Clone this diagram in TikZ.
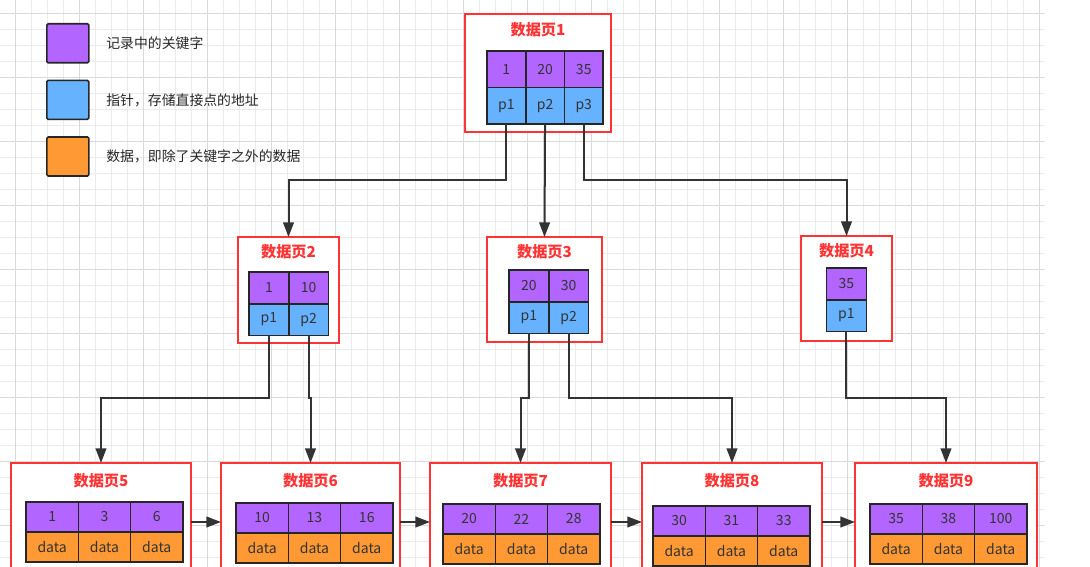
\documentclass[tikz,border=0pt]{standalone}
\usepackage{fontspec}
\setmainfont{Noto Sans CJK SC}
\usetikzlibrary{positioning, arrows.meta, calc}
\newlength\pxu
\setlength\pxu{0.75pt}
\definecolor{keyc}{HTML}{B266FF}
\definecolor{ptrc}{HTML}{66B2FF}
\definecolor{datc}{HTML}{FF9933}
\definecolor{pagered}{HTML}{FF3333}
\definecolor{linec}{HTML}{333333}

\begin{document}
\begin{tikzpicture}[x=\pxu, y=-\pxu,
  page/.style={draw=pagered, line width=1.1pt, fill=white, anchor=north west,
               inner sep=0pt, outer sep=0pt},
  title/.style={text=pagered, font=\bfseries\fontsize{11.4}{13}\selectfont},
  cell/.style={draw=black!85, line width=1.2pt, outer sep=0pt, inner sep=0pt,
               text=black!80, font=\fontsize{10.5}{12}\selectfont},
  key/.style={cell, fill=keyc},
  ptr/.style={cell, fill=ptrc},
  dat/.style={cell, fill=datc},
  root/.style={minimum width=38.7\pxu, minimum height=36.5\pxu},
  upper/.style={minimum width=39.8\pxu, minimum height=31.7\pxu},
  leaf/.style={minimum width=52.3\pxu, minimum height=30\pxu},
  arr/.style={-{Triangle[length=11pt, width=8pt]}, line width=1.5pt, draw=linec},
  legbox/.style={draw=black!85, line width=1.2pt, rounded corners=1pt,
                 minimum width=42\pxu, minimum height=39\pxu, inner sep=0pt},
  legtext/.style={anchor=west, text=black!85, font=\fontsize{10.4}{12}\selectfont},
  gridminor/.style={draw=black!8, line width=0.5pt},
  gridmajor/.style={draw=black!15, line width=0.6pt},
]
\useasboundingbox (0,0) rectangle (1090,567);
\clip (0,0) rectangle (1090,567);

% Background grid
\foreach \gx in {15,31,...,1045} \draw[gridminor] (\gx,0) -- (\gx,567);
\foreach \gy in {13,29,...,567} \draw[gridminor] (0,\gy) -- (1045,\gy);
\foreach \gx in {15,79,...,1045} \draw[gridmajor] (\gx,0) -- (\gx,567);
\foreach \gy in {13,77,...,567} \draw[gridmajor] (0,\gy) -- (1045,\gy);

% Legend
\node[legbox, fill=keyc, anchor=north west] (legkey) at (46,23) {};
\node[legbox, fill=ptrc, below=16\pxu of legkey] (legptr) {};
\node[legbox, fill=datc, below=16\pxu of legptr] (legdat) {};
\node[legtext, right=12\pxu of legkey] {记录中的关键字};
\node[legtext, right=12\pxu of legptr] {指针，存储直接点的地址};
\node[legtext, right=12\pxu of legdat] {数据，即除了关键字之外的数据};

% Page 1 (root)
\node[page, minimum width=146\pxu, minimum height=118\pxu] (page1) at (465,14) {};
\node[title] at ($(page1.north)+(0,16)$) {数据页1};
\node[key, root, anchor=north west] (p1k1) at (487,51) {1};
\node[key, root, right=0pt of p1k1] (p1k2) {20};
\node[key, root, right=0pt of p1k2] (p1k3) {35};
\node[ptr, root, below=0pt of p1k1] (p1p1) {p1};
\node[ptr, root, below=0pt of p1k2] (p1p2) {p2};
\node[ptr, root, below=0pt of p1k3] (p1p3) {p3};

% Page 2
\node[page, minimum width=101\pxu, minimum height=106\pxu] (page2) at (238,237) {};
\node[title] at ($(page2.north)+(0,14.5)$) {数据页2};
\node[key, upper, anchor=north west] (p2k1) at (249,272) {1};
\node[key, upper, right=0pt of p2k1] (p2k2) {10};
\node[ptr, upper, below=0pt of p2k1] (p2p1) {p1};
\node[ptr, upper, below=0pt of p2k2] (p2p2) {p2};

% Page 3
\node[page, minimum width=115\pxu, minimum height=105\pxu] (page3) at (487,237) {};
\node[title] at ($(page3.north)+(0,15)$) {数据页3};
\node[key, upper, anchor=north west] (p3k1) at (509,270) {20};
\node[key, upper, right=0pt of p3k1] (p3k2) {30};
\node[ptr, upper, below=0pt of p3k1] (p3p1) {p1};
\node[ptr, upper, below=0pt of p3k2] (p3p2) {p2};

% Page 4
\node[page, minimum width=91\pxu, minimum height=105\pxu] (page4) at (801,236) {};
\node[title] at ($(page4.north)+(0,15)$) {数据页4};
\node[key, upper, anchor=north west] (p4k1) at (826.5,268) {35};
\node[ptr, upper, below=0pt of p4k1] (p4p1) {p1};

% Leaf pages
\node[page, minimum width=180\pxu, minimum height=118\pxu] (page5) at (11,463) {};
\node[title] at ($(page5.north)+(0,18)$) {数据页5};
\node[key, leaf, anchor=north west] (p5k1) at (26,502) {1};
\node[key, leaf, right=0pt of p5k1] (p5k2) {3};
\node[key, leaf, right=0pt of p5k2] (p5k3) {6};
\node[dat, leaf, below=0pt of p5k1] (p5d1) {data};
\node[dat, leaf, below=0pt of p5k2] (p5d2) {data};
\node[dat, leaf, below=0pt of p5k3] (p5d3) {data};

\node[page, minimum width=179\pxu, minimum height=118\pxu] (page6) at (221,463) {};
\node[title] at ($(page6.north)+(0,18)$) {数据页6};
\node[key, leaf, anchor=north west] (p6k1) at (236,503) {10};
\node[key, leaf, right=0pt of p6k1] (p6k2) {13};
\node[key, leaf, right=0pt of p6k2] (p6k3) {16};
\node[dat, leaf, below=0pt of p6k1] (p6d1) {data};
\node[dat, leaf, below=0pt of p6k2] (p6d2) {data};
\node[dat, leaf, below=0pt of p6k3] (p6d3) {data};

\node[page, minimum width=181\pxu, minimum height=118\pxu] (page7) at (430,463) {};
\node[title] at ($(page7.north)+(0,18)$) {数据页7};
\node[key, leaf, anchor=north west] (p7k1) at (443,504) {20};
\node[key, leaf, right=0pt of p7k1] (p7k2) {22};
\node[key, leaf, right=0pt of p7k2] (p7k3) {28};
\node[dat, leaf, below=0pt of p7k1] (p7d1) {data};
\node[dat, leaf, below=0pt of p7k2] (p7d2) {data};
\node[dat, leaf, below=0pt of p7k3] (p7d3) {data};

\node[page, minimum width=180\pxu, minimum height=118\pxu] (page8) at (642,463) {};
\node[title] at ($(page8.north)+(0,18)$) {数据页8};
\node[key, leaf, anchor=north west] (p8k1) at (653,506) {30};
\node[key, leaf, right=0pt of p8k1] (p8k2) {31};
\node[key, leaf, right=0pt of p8k2] (p8k3) {33};
\node[dat, leaf, below=0pt of p8k1] (p8d1) {data};
\node[dat, leaf, below=0pt of p8k2] (p8d2) {data};
\node[dat, leaf, below=0pt of p8k3] (p8d3) {data};

\node[page, minimum width=182\pxu, minimum height=118\pxu] (page9) at (855,463) {};
\node[title] at ($(page9.north)+(0,18)$) {数据页9};
\node[key, leaf, anchor=north west] (p9k1) at (870,504) {35};
\node[key, leaf, right=0pt of p9k1] (p9k2) {38};
\node[key, leaf, right=0pt of p9k2] (p9k3) {100};
\node[dat, leaf, below=0pt of p9k1] (p9d1) {data};
\node[dat, leaf, below=0pt of p9k2] (p9d2) {data};
\node[dat, leaf, below=0pt of p9k3] (p9d3) {data};

% Pointer arrows
\coordinate (bus1) at (0,180);
\coordinate (bus2) at (0,398);
\draw[arr] (p1p1.south) -- (p1p1.south |- bus1) -| (page2.north);
\draw[arr] (p1p2.south) -- (page3.north);
\draw[arr] (p1p3.south) -- (p1p3.south |- bus1) -| (page4.north);
\draw[arr] (p2p1.south) -- (p2p1.south |- bus2) -| (page5.north);
\draw[arr] (p2p2.south) -- (p2p2.south |- bus2) -| (page6.north);
\draw[arr] (p3p1.south) -- (p3p1.south |- bus2) -| (page7.north);
\draw[arr] (p3p2.south) -- (p3p2.south |- bus2) -| (page8.north);
\draw[arr] (p4p1.south) -- (p4p1.south |- bus2) -| (page9.north);

% Leaf links
\draw[arr] (page5) -- (page6);
\draw[arr] (page6) -- (page7);
\draw[arr] (page7) -- (page8);
\draw[arr] (page8) -- (page9);

\end{tikzpicture}
\end{document}
